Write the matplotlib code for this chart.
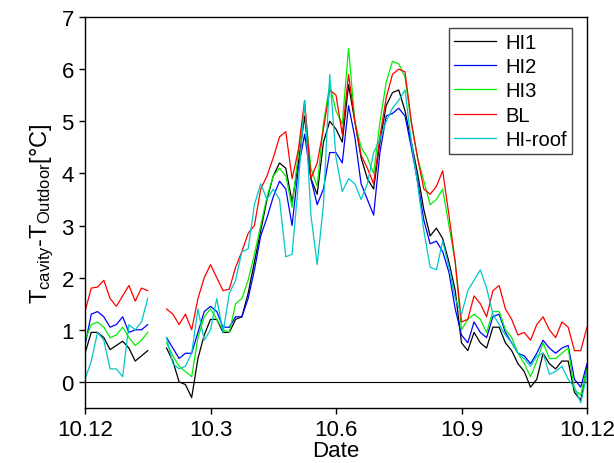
import numpy as np
import matplotlib
matplotlib.use('Agg')
import matplotlib.pyplot as plt

plt.rcParams['font.family'] = ['Liberation Sans', 'DejaVu Sans']
plt.rcParams['mathtext.fontset'] = 'custom'
plt.rcParams['mathtext.rm'] = 'Liberation Sans'
plt.rcParams['mathtext.it'] = 'Liberation Sans:italic'

nan = np.nan
# time axis in tick units (one unit between each labelled date tick), step 0.05
t = np.round(np.arange(0, 4.0001, 0.05), 2)
tick_labels = ['10.12', '10.3', '10.6', '10.9', '10.12']

hi1 = [0.55, 0.95, 0.95, 0.85, 0.62, 0.70, 0.78, 0.65, 0.40, 0.50, 0.60, nan, nan,
       0.65, 0.40, 0.00, -0.05, -0.30, 0.45, 0.90, 1.20,
       1.20, 0.95, 0.95, 1.20, 1.25, 1.70, 2.30, 2.90, 3.50, 3.95, 4.20, 4.10, 3.45, 4.20, 5.10, 3.90, 3.60, 4.60, 5.00,
       4.85, 4.60, 5.70, 5.00, 4.30, 3.90, 3.70, 4.60, 5.30, 5.55, 5.60, 5.20, 4.60, 4.00, 3.30, 2.80, 2.95, 2.75, 2.30, 1.75,
       0.75, 0.60, 0.95, 0.75, 0.65, 1.05, 1.05, 0.75, 0.60, 0.35, 0.20, -0.10, 0.05, 0.55, 0.35, 0.25, 0.40, 0.40, -0.20, -0.35, 0.30]

hi2 = [0.70, 1.30, 1.35, 1.25, 1.05, 1.10, 1.25, 0.95, 1.00, 1.00, 1.10, nan, nan,
       0.85, 0.65, 0.45, 0.55, 0.55, 0.95, 1.35, 1.45,
       1.35, 1.05, 1.05, 1.25, 1.25, 1.60, 2.15, 2.80, 3.15, 3.55, 3.85, 3.70, 3.00, 4.10, 4.75, 3.90, 3.40, 3.70, 4.40,
       4.40, 4.20, 5.30, 4.70, 3.80, 3.50, 3.20, 4.40, 5.10, 5.15, 5.25, 5.10, 4.50, 3.85, 3.10, 2.65, 2.70, 2.50, 2.10, 1.40,
       0.90, 0.75, 1.15, 0.95, 0.85, 1.25, 1.30, 0.95, 0.75, 0.55, 0.50, 0.35, 0.55, 0.80, 0.65, 0.55, 0.65, 0.70, 0.05, -0.10, 0.35]

hi3 = [0.80, 1.10, 1.15, 1.05, 0.85, 0.90, 1.05, 0.85, 0.70, 0.80, 0.95, nan, nan,
       0.75, 0.50, 0.30, 0.20, 0.10, 0.85, 1.25, 1.40,
       1.20, 1.00, 0.95, 1.50, 1.60, 1.95, 2.45, 3.00, 3.55, 3.95, 4.10, 3.95, 3.35, 4.40, 5.30, 4.10, 3.75, 4.95, 5.70,
       5.20, 4.95, 6.40, 5.00, 4.50, 4.30, 4.00, 4.98, 5.75, 6.15, 6.10, 5.85, 4.95, 4.30, 3.85, 3.40, 3.50, 3.70, 3.00, 2.30,
       1.00, 1.20, 1.30, 1.20, 0.95, 1.35, 1.35, 1.00, 0.85, 0.55, 0.35, 0.10, 0.40, 0.75, 0.45, 0.45, 0.55, 0.65, -0.15, -0.25, 0.25]

bl = [1.35, 1.80, 1.82, 1.95, 1.60, 1.45, 1.65, 1.85, 1.55, 1.80, 1.75, nan, nan,
      1.40, 1.30, 1.10, 1.30, 1.00, 1.60, 2.00, 2.25,
      2.00, 1.75, 1.78, 2.20, 2.50, 2.85, 3.00, 3.70, 3.95, 4.30, 4.70, 4.80, 3.90, 4.45, 5.40, 3.90, 4.20, 4.85, 5.60,
      5.50, 4.75, 5.90, 5.00, 4.35, 4.10, 3.80, 4.70, 5.45, 5.90, 6.00, 5.95, 5.00, 4.30, 3.70, 3.60, 3.75, 4.05, 3.20, 2.30,
      1.15, 1.20, 1.65, 1.50, 1.25, 1.75, 1.85, 1.40, 1.20, 0.90, 0.95, 0.80, 1.10, 1.25, 1.00, 0.85, 1.15, 1.05, 0.60, 0.60, 1.05]

hi_roof = [0.05, 0.40, 0.95, 0.80, 0.25, 0.25, 0.10, 1.10, 1.00, 1.15, 1.60, nan, nan,
           0.85, 0.35, 0.25, 0.30, 0.55, 1.40, 0.80, 1.00,
           1.60, 0.95, 1.70, 1.95, 2.50, 2.55, 3.40, 3.80, 3.50, 3.70, 3.50, 2.40, 2.45, 3.80, 5.40, 3.20, 2.25, 3.40, 5.90,
           4.30, 3.65, 3.90, 3.80, 3.50, 3.80, 4.40, 4.65, 5.00, 5.25, 5.40, 5.60, 4.60, 3.80, 2.90, 2.20, 2.15, 2.70, 2.20, 1.60,
           1.30, 1.75, 1.95, 2.15, 1.80, 1.30, 1.10, 0.90, 0.75, 0.55, 0.45, 0.30, 0.50, 0.55, 0.15, 0.20, 0.30, 0.05, -0.10, -0.40, 0.15]

names = ['HI1', 'HI2', 'HI3', 'BL', 'HI-roof']
series = [hi1, hi2, hi3, bl, hi_roof]
colors = ['#000000', '#0000ff', '#00f000', '#ff0000', '#00c8c8']

fig = plt.figure(figsize=(6.14, 4.64), dpi=100)
ax = fig.add_axes([85 / 614, 55 / 464, 502 / 614, 391 / 464])

for name, y, c in zip(names, series, colors):
    ax.plot(t, y, color=c, lw=0.9, label=name)

ax.axhline(0, color='black', lw=0.8, zorder=0)

ax.set_xlim(0, 4)
ax.set_ylim(-0.5, 7)
ax.set_xticks(range(5))
ax.set_xticklabels(tick_labels)
ax.set_yticks(range(8))
ax.tick_params(direction='out', length=4, width=1, labelsize=16, pad=4)
for s in ax.spines.values():
    s.set_linewidth(1)

ax.set_xlabel('Date', fontsize=16, labelpad=0)
ax.set_ylabel('T$_\\mathrm{cavity}$-T$_\\mathrm{Outdoor}$[°C]', fontsize=17, labelpad=4)

leg = ax.legend(loc='upper right', bbox_to_anchor=(0.970, 0.972), borderaxespad=0,
                fontsize=14.5, handlelength=2.1, labelspacing=0.26, handletextpad=0.45,
                borderpad=0.25, fancybox=False, framealpha=1)
leg.get_frame().set_edgecolor('#444444')
leg.get_frame().set_linewidth(1)

fig.savefig('out.png', dpi=100)
